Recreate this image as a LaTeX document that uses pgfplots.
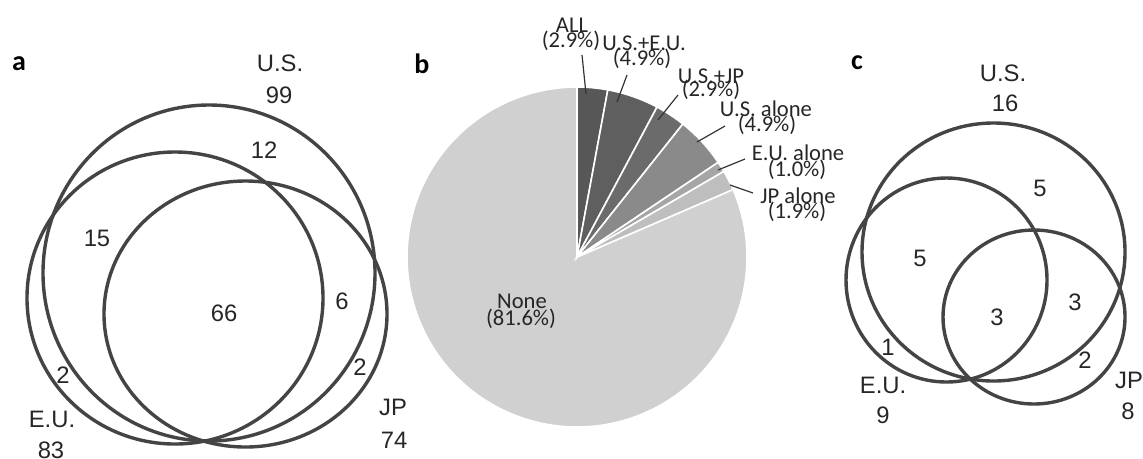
\documentclass[border=0pt]{standalone}
\usepackage{pgfplots}
\pgfplotsset{compat=1.18}
\usepackage{fontspec}
\setmainfont{Liberation Sans}
\newfontfamily\calib{Carlito}
\definecolor{vc}{HTML}{444444}
\definecolor{p1}{HTML}{575757}
\definecolor{p2}{HTML}{5F5F5F}
\definecolor{p3}{HTML}{6B6B6B}
\definecolor{p4}{HTML}{8A8A8A}
\definecolor{p5}{HTML}{A6A6A6}
\definecolor{p6}{HTML}{BEBEBE}
\definecolor{p7}{HTML}{D0D0D0}
\begin{document}
\begin{tikzpicture}
\begin{axis}[width=571.5pt,height=227pt,scale only axis,
  xmin=0,xmax=1143,ymin=0,ymax=454,y dir=reverse,hide axis,clip=false]
\path (axis cs:0,0) rectangle (axis cs:1143,454);
% ---- panel a ----
\begin{scope}[vc,line width=1.7pt]
\draw (axis cs:209,273) ellipse [x radius=83pt,y radius=84pt];
\draw (axis cs:175,298) ellipse [x radius=74pt,y radius=73pt];
\draw (axis cs:245.5,314) ellipse [x radius=70.75pt,y radius=66.5pt];
\end{scope}
\begin{scope}[every node/.style={font=\fontsize{11.9}{13}\selectfont,text=black!85,inner sep=0pt}]
\node at (axis cs:280,63) {U.S.};
\node at (axis cs:279,95) {99};
\node at (axis cs:264,150) {12};
\node at (axis cs:97,238) {15};
\node at (axis cs:224,313) {66};
\node at (axis cs:342,301) {6};
\node at (axis cs:63,375) {2};
\node at (axis cs:360,367) {2};
\node at (axis cs:393,407) {JP};
\node at (axis cs:394,440) {74};
\node at (axis cs:52,419) {E.U.};
\node at (axis cs:51,450) {83};
\end{scope}
% ---- panel b ----
\def\r{85pt}
\begin{scope}[draw=white,line width=0.8pt]
\filldraw[fill=p7,draw=white] (axis cs:577,257) -- ++(23.40:\r) arc[start angle=23.40,end angle=-270,radius=\r] -- cycle;
\filldraw[fill=p1,draw=white] (axis cs:577,257) -- ++(90:\r) arc[start angle=90,end angle=79.56,radius=\r] -- cycle;
\filldraw[fill=p2,draw=white] (axis cs:577,257) -- ++(79.56:\r) arc[start angle=79.56,end angle=61.92,radius=\r] -- cycle;
\filldraw[fill=p3,draw=white] (axis cs:577,257) -- ++(61.92:\r) arc[start angle=61.92,end angle=51.48,radius=\r] -- cycle;
\filldraw[fill=p4,draw=white] (axis cs:577,257) -- ++(51.48:\r) arc[start angle=51.48,end angle=33.84,radius=\r] -- cycle;
\filldraw[fill=p5,draw=white] (axis cs:577,257) -- ++(33.84:\r) arc[start angle=33.84,end angle=30.24,radius=\r] -- cycle;
\filldraw[fill=p6,draw=white] (axis cs:577,257) -- ++(30.24:\r) arc[start angle=30.24,end angle=23.40,radius=\r] -- cycle;
\end{scope}
\begin{scope}[black!80,line width=0.6pt]
\draw (axis cs:582,55) -- (axis cs:586,94);
\draw (axis cs:627,75) -- (axis cs:617,102);
\draw (axis cs:678,95) -- (axis cs:658,120);
\draw (axis cs:725,126) -- (axis cs:697,142);
\draw (axis cs:745,159) -- (axis cs:718,170);
\draw (axis cs:753,193) -- (axis cs:730,185);
\end{scope}
\begin{scope}[every node/.style={font=\calib\fontsize{11.3}{10}\selectfont,text=black!85,inner sep=0pt}]
\node at (axis cs:572,25) {ALL};
\node at (axis cs:571,41) {(2.9\%)};
\node at (axis cs:644,43) {U.S.+E.U.};
\node at (axis cs:642,59) {(4.9\%)};
\node at (axis cs:711,76) {U.S.+JP};
\node at (axis cs:711,90) {(2.9\%)};
\node at (axis cs:766,109) {U.S. alone};
\node at (axis cs:767,125) {(4.9\%)};
\node at (axis cs:798,153) {E.U. alone};
\node at (axis cs:797,170) {(1.0\%)};
\node at (axis cs:798,196) {JP alone};
\node at (axis cs:797,212) {(1.9\%)};
\node at (axis cs:522,301) {None};
\node at (axis cs:521,319) {(81.6\%)};
\end{scope}
% ---- panel c ----
\begin{scope}[vc,line width=1.7pt]
\draw (axis cs:993.5,252) ellipse [x radius=65.75pt,y radius=64.5pt];
\draw (axis cs:946.5,280) ellipse [x radius=50.25pt,y radius=51pt];
\draw (axis cs:1034,317) ellipse [x radius=45.5pt,y radius=43.5pt];
\end{scope}
\begin{scope}[every node/.style={font=\fontsize{11.9}{13}\selectfont,text=black!85,inner sep=0pt}]
\node at (axis cs:1003,73) {U.S.};
\node at (axis cs:1005,103) {16};
\node at (axis cs:1040,188) {5};
\node at (axis cs:920,258) {5};
\node at (axis cs:997,317) {3};
\node at (axis cs:1075,302) {3};
\node at (axis cs:888,347) {1};
\node at (axis cs:1085,360) {2};
\node at (axis cs:883,385) {E.U.};
\node at (axis cs:883,415) {9};
\node at (axis cs:1129,380) {JP};
\node at (axis cs:1128,411) {8};
\end{scope}
% panel letters
\begin{scope}[every node/.style={font=\calib\bfseries\fontsize{14}{14}\selectfont,inner sep=0pt}]
\node at (axis cs:19,64) {a};
\node at (axis cs:422,64) {b};
\node at (axis cs:857,63) {c};
\end{scope}
\end{axis}
\end{tikzpicture}
\end{document}
